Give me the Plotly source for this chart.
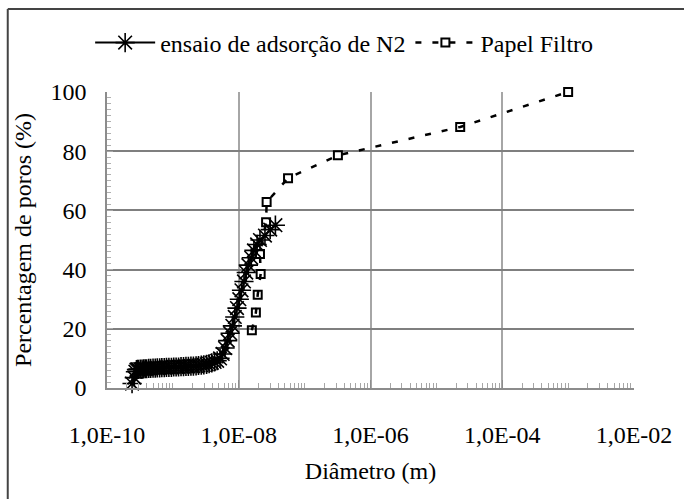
import plotly.graph_objects as go

# ---- data ----
n2_diam = [2.4e-10, 2.6e-10, 2.7e-10, 2.8e-10, 2.9e-10, 3.0e-10, 3.2e-10, 3.4e-10, 3.6e-10, 3.8e-10,
           4.0e-10, 4.3e-10, 4.6e-10, 5.0e-10, 5.4e-10, 5.8e-10, 6.3e-10, 6.8e-10, 7.4e-10, 8.0e-10,
           8.7e-10, 9.5e-10, 1.03e-9, 1.12e-9, 1.22e-9, 1.33e-9, 1.45e-9, 1.58e-9, 1.72e-9, 1.88e-9,
           2.05e-9, 2.25e-9, 2.45e-9, 2.7e-9, 2.95e-9, 3.25e-9, 3.55e-9, 3.9e-9, 4.3e-9, 4.7e-9,
           5.2e-9, 5.7e-9, 6.2e-9, 6.8e-9, 7.4e-9, 8.0e-9, 8.7e-9, 9.4e-9, 1.02e-8, 1.1e-8,
           1.2e-8, 1.3e-8, 1.4e-8, 1.55e-8, 1.7e-8, 1.9e-8, 2.1e-8, 2.5e-8, 3.0e-8, 3.6e-8]
n2_pct = [1.5, 3.5, 5.5, 6.2, 6.3, 6.3, 6.4, 6.4, 6.5, 6.5,
          6.5, 6.6, 6.6, 6.7, 6.7, 6.8, 6.8, 6.9, 6.9, 7.0,
          7.0, 7.0, 7.1, 7.1, 7.1, 7.2, 7.2, 7.3, 7.3, 7.4,
          7.4, 7.5, 7.6, 7.7, 7.8, 8.0, 8.2, 8.5, 8.8, 9.2,
          10.0, 11.5, 13.5, 16.0, 18.5, 21.0, 24.0, 27.0, 30.0, 33.0,
          36.0, 39.0, 41.5, 44.0, 46.5, 48.5, 50.0, 51.5, 53.5, 55.0]

pf_diam = [1.58e-8, 1.82e-8, 1.94e-8, 2.15e-8, 2.1e-8, 2.6e-8, 2.65e-8, 5.6e-8, 3.2e-7, 2.3e-5, 1.0e-3]
pf_pct = [19.5, 25.5, 31.5, 38.5, 45.3, 56.0, 62.8, 70.9, 78.6, 88.2, 100.0]

x_tickvals = [1e-10, 1e-8, 1e-6, 1e-4, 1e-2]
x_ticktext = ["1,0E-10", "1,0E-08", "1,0E-06", "1,0E-04", "1,0E-02"]
y_tickvals = [0, 20, 40, 60, 80, 100]

FONT = "Liberation Serif"

fig = go.Figure()
fig.add_trace(go.Scatter(
    x=n2_diam, y=n2_pct, name="ensaio de adsorção de N2",
    mode="lines+markers", cliponaxis=False,
    line=dict(color="black", width=2),
    marker=dict(symbol="asterisk-open", size=16, color="black",
                line=dict(color="black", width=1.6)),
))
fig.add_trace(go.Scatter(
    x=pf_diam, y=pf_pct, name="Papel Filtro",
    mode="lines+markers", cliponaxis=False,
    line=dict(color="black", width=2.5, dash="6px,11px"),
    marker=dict(symbol="square-open", size=8, color="black",
                line=dict(color="black", width=2)),
))

L, R, T, B = 107, 46, 92, 111
W, H = 684, 499
pw, ph = W - L - R, H - T - B

def px_to_paper_x(px):
    return (px - L) / pw

def py_to_paper_y(py):
    return (H - B - py) / ph

fig.update_layout(
    width=W, height=H,
    margin=dict(l=L, r=R, t=T, b=B),
    paper_bgcolor="white", plot_bgcolor="white",
    font=dict(family=FONT, size=24, color="black"),
    showlegend=True,
    legend=dict(orientation="h", x=0.45, xanchor="center",
                y=py_to_paper_y(43), yanchor="middle",
                font=dict(family=FONT, size=24, color="black"),
                bgcolor="rgba(0,0,0,0)", itemwidth=60, tracegroupgap=0),
    shapes=[
        dict(type="line", xref="paper", yref="paper",
             x0=px_to_paper_x(7), x1=px_to_paper_x(7),
             y0=py_to_paper_y(9), y1=py_to_paper_y(520),
             line=dict(color="#444444", width=2)),
        dict(type="line", xref="paper", yref="paper",
             x0=px_to_paper_x(7), x1=px_to_paper_x(700),
             y0=py_to_paper_y(9), y1=py_to_paper_y(9),
             line=dict(color="#444444", width=2)),
    ],
)

fig.update_xaxes(
    type="log", range=[-10, -2],
    tickvals=x_tickvals, ticktext=x_ticktext,
    tickfont=dict(family=FONT, size=24),
    showgrid=True, gridcolor="#a6a6a6", gridwidth=1.5,
    showline=True, linecolor="#8c8c8c", linewidth=1.5,
    ticks="inside", ticklen=8, tickcolor="#8c8c8c",
    minor=dict(dtick="D1", ticks="inside", ticklen=5, tickcolor="#a6a6a6", showgrid=False),
    ticklabelstandoff=24,
    zeroline=False,
    title=dict(text="Diâmetro (m)", font=dict(family=FONT, size=24), standoff=16),
)
fig.update_yaxes(
    range=[0, 100], tickvals=y_tickvals,
    tickfont=dict(family=FONT, size=24),
    showgrid=True, gridcolor="#7f7f7f", gridwidth=1.5,
    showline=True, linecolor="#8c8c8c", linewidth=1.5,
    ticks="inside", ticklen=6, tickcolor="#a6a6a6",
    minor=dict(dtick=2, ticks="inside", ticklen=4, tickcolor="#b0b0b0", showgrid=False),
    ticklabelstandoff=14,
    zeroline=False,
    title=dict(text="Percentagem de poros (%)", font=dict(family=FONT, size=24), standoff=12),
)

fig.write_html("out.html")
